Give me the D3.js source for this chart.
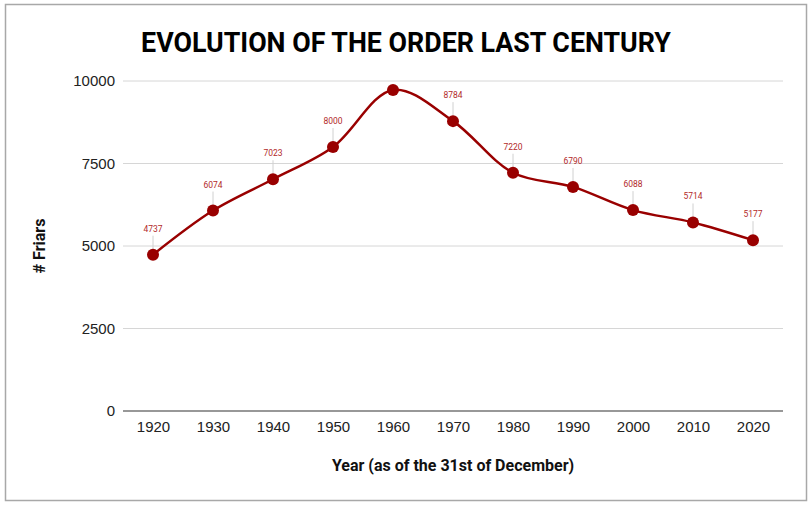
<!DOCTYPE html>
<html>
<head>
<meta charset="utf-8">
<script src="https://cdn.jsdelivr.net/npm/d3@7"></script>
<style>
  body { margin: 0; background: #fff; }
</style>
</head>
<body>
<div id="chart"></div>
<script>
// data
var years = ["1920", "1930", "1940", "1950", "1960", "1970", "1980", "1990", "2000", "2010", "2020"];
var friars = [4737, 6074, 7023, 8000, 9730, 8784, 7220, 6790, 6088, 5714, 5177];
// the 1960 label is not shown in the original
var showLabel = [true, true, true, true, false, true, true, true, true, true, true];
var yTicks = [0, 2500, 5000, 7500, 10000];

var W = 812, H = 508;
var margin = {top: 81, right: 29, bottom: 97, left: 123},
    width = W - margin.left - margin.right,
    height = H - margin.top - margin.bottom;

var svg = d3.select("#chart")
  .append("svg")
    .attr("width", W)
    .attr("height", H);

// outer frame
svg.append("rect")
  .attr("x", 5.5).attr("y", 4.5)
  .attr("width", 801).attr("height", 496)
  .attr("fill", "#fff")
  .attr("stroke", "#a8a8a8")
  .attr("stroke-width", 1.5);

var g = svg.append("g")
  .attr("transform", "translate(" + margin.left + "," + margin.top + ")");

var x = d3.scalePoint()
  .domain(years)
  .range([0, width])
  .padding(0.5);

var y = d3.scaleLinear()
  .domain([0, 10000])
  .range([height, 0]);

// gridlines
g.selectAll(".grid")
  .data(yTicks.filter(function(d) { return d > 0; }))
  .enter().append("line")
    .attr("x1", 0).attr("x2", width)
    .attr("y1", function(d) { return y(d); })
    .attr("y2", function(d) { return y(d); })
    .attr("stroke", "#d6d6d6")
    .attr("stroke-width", 1);

// baseline
g.append("line")
  .attr("x1", 0).attr("x2", width)
  .attr("y1", y(0)).attr("y2", y(0))
  .attr("stroke", "#333")
  .attr("stroke-width", 1.2);

// Y axis labels
var yAxis = g.append("g")
  .call(d3.axisLeft(y).tickValues(yTicks).tickFormat(d3.format("d")).tickSize(0).tickPadding(8));
yAxis.select(".domain").remove();
yAxis.selectAll("text")
  .attr("font-family", "Liberation Sans, Arial, sans-serif")
  .attr("font-size", 15)
  .attr("fill", "#222");

// X axis labels
var xAxis = g.append("g")
  .attr("transform", "translate(0," + height + ")")
  .call(d3.axisBottom(x).tickSize(0).tickPadding(10));
xAxis.select(".domain").remove();
xAxis.selectAll("text")
  .attr("font-family", "Liberation Sans, Arial, sans-serif")
  .attr("font-size", 15)
  .attr("fill", "#222");

var pts = years.map(function(d, i) { return {year: d, value: friars[i], show: showLabel[i]}; });

// leader lines + value labels
var lab = g.selectAll(".lab")
  .data(pts.filter(function(d) { return d.show; }))
  .enter().append("g");
lab.append("line")
  .attr("x1", function(d) { return x(d.year); })
  .attr("x2", function(d) { return x(d.year); })
  .attr("y1", function(d) { return y(d.value) - 19; })
  .attr("y2", function(d) { return y(d.value); })
  .attr("stroke", "#d0d0d0")
  .attr("stroke-width", 1);
lab.append("text")
  .attr("x", function(d) { return x(d.year); })
  .attr("y", function(d) { return y(d.value) - 23; })
  .attr("text-anchor", "middle")
  .attr("font-family", "Roboto, sans-serif")
  .attr("font-size", 8.5)
  .attr("fill", "#b22a2a")
  .text(function(d) { return d.value; });

// the line
g.append("path")
  .datum(pts)
  .attr("fill", "none")
  .attr("stroke", "#990000")
  .attr("stroke-width", 2.5)
  .attr("d", d3.line()
    .curve(d3.curveCatmullRom.alpha(0.5))
    .x(function(d) { return x(d.year); })
    .y(function(d) { return y(d.value); }));

// points
g.selectAll(".dot")
  .data(pts)
  .enter().append("circle")
    .attr("cx", function(d) { return x(d.year); })
    .attr("cy", function(d) { return y(d.value); })
    .attr("r", 6)
    .attr("fill", "#990000");

// title
svg.append("text")
  .attr("x", 406).attr("y", 52)
  .attr("text-anchor", "middle")
  .attr("font-family", "Roboto, sans-serif")
  .attr("font-weight", 700)
  .attr("font-size", 26.8)
  .attr("fill", "#000")
  .text("EVOLUTION OF THE ORDER LAST CENTURY");

// axis titles
svg.append("text")
  .attr("x", margin.left + width / 2).attr("y", 471)
  .attr("text-anchor", "middle")
  .attr("font-family", "Roboto, sans-serif")
  .attr("font-weight", 700)
  .attr("font-size", 16)
  .attr("fill", "#111")
  .text("Year (as of the 31st of December)");

svg.append("text")
  .attr("transform", "translate(45," + (margin.top + height / 2) + ") rotate(-90)")
  .attr("text-anchor", "middle")
  .attr("font-family", "Roboto, sans-serif")
  .attr("font-weight", 700)
  .attr("font-size", 16)
  .attr("fill", "#111")
  .text("# Friars");
</script>
</body>
</html>
